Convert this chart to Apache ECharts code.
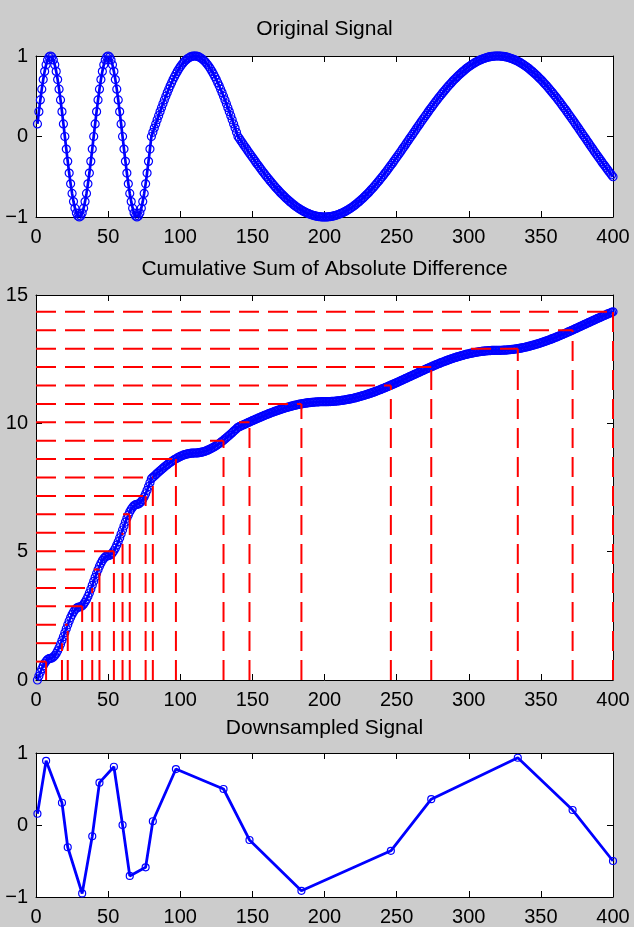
<!DOCTYPE html>
<html><head><meta charset="utf-8">
<script src="https://cdn.jsdelivr.net/npm/echarts@6/dist/echarts.min.js"></script>
<style>html,body{margin:0;padding:0;background:#cccccc;}#c{width:634px;height:927px;}</style>
</head><body><div id="c"></div><script>
// ---- data ----
const titles = ['Original Signal', 'Cumulative Sum of Absolute Difference', 'Downsampled Signal'];
const xTickValues = [0, 50, 100, 150, 200, 250, 300, 350, 400];
const ySignalTicks = [-1, 0, 1];
const yCumTicks = [0, 5, 10, 15];
const nLevels = 20;

// original signal, samples at x = 1 .. 400
const signal = [
 .156,.309,.454,.588,.707,.809,.891,.951,.988,1,
 .988,.951,.891,.809,.707,.588,.454,.309,.156,0,
 -.156,-.309,-.454,-.588,-.707,-.809,-.891,-.951,-.988,-1,
 -.988,-.951,-.891,-.809,-.707,-.588,-.454,-.309,-.156,0,
 .156,.309,.454,.588,.707,.809,.891,.951,.988,1,
 .988,.951,.891,.809,.707,.588,.454,.309,.156,0,
 -.156,-.309,-.454,-.588,-.707,-.809,-.891,-.951,-.988,-1,
 -.988,-.951,-.891,-.809,-.707,-.588,-.454,-.309,-.156,0,
 .052,.105,.156,.208,.259,.309,.358,.407,.454,.5,
 .545,.588,.629,.669,.707,.743,.777,.809,.839,.866,
 .891,.914,.934,.951,.966,.978,.988,.995,.999,1,
 .999,.995,.988,.978,.966,.951,.934,.914,.891,.866,
 .839,.809,.777,.743,.707,.669,.629,.588,.545,.5,
 .454,.407,.358,.309,.259,.208,.156,.105,.052,0,
 -.026,-.052,-.078,-.105,-.131,-.156,-.182,-.208,-.233,-.259,
 -.284,-.309,-.334,-.358,-.383,-.407,-.431,-.454,-.477,-.5,
 -.522,-.545,-.566,-.588,-.609,-.629,-.649,-.669,-.688,-.707,
 -.725,-.743,-.76,-.777,-.793,-.809,-.824,-.839,-.853,-.866,
 -.879,-.891,-.903,-.914,-.924,-.934,-.943,-.951,-.959,-.966,
 -.972,-.978,-.983,-.988,-.991,-.995,-.997,-.999,-1,-1,
 -1,-.999,-.997,-.995,-.991,-.988,-.983,-.978,-.972,-.966,
 -.959,-.951,-.943,-.934,-.924,-.914,-.903,-.891,-.879,-.866,
 -.853,-.839,-.824,-.809,-.793,-.777,-.76,-.743,-.725,-.707,
 -.688,-.669,-.649,-.629,-.609,-.588,-.566,-.545,-.522,-.5,
 -.477,-.454,-.431,-.407,-.383,-.358,-.334,-.309,-.284,-.259,
 -.233,-.208,-.182,-.156,-.131,-.105,-.078,-.052,-.026,0,
 .026,.052,.078,.105,.131,.156,.182,.208,.233,.259,
 .284,.309,.334,.358,.383,.407,.431,.454,.477,.5,
 .522,.545,.566,.588,.609,.629,.649,.669,.688,.707,
 .725,.743,.76,.777,.793,.809,.824,.839,.853,.866,
 .879,.891,.903,.914,.924,.934,.943,.951,.959,.966,
 .972,.978,.983,.988,.991,.995,.997,.999,1,1,
 1,.999,.997,.995,.991,.988,.983,.978,.972,.966,
 .959,.951,.943,.934,.924,.914,.903,.891,.879,.866,
 .853,.839,.824,.809,.793,.777,.76,.743,.725,.707,
 .688,.669,.649,.629,.609,.588,.566,.545,.522,.5,
 .477,.454,.431,.407,.383,.358,.334,.309,.284,.259,
 .233,.208,.182,.156,.131,.105,.078,.052,.026,0,
 -.026,-.052,-.078,-.105,-.131,-.156,-.182,-.208,-.233,-.259,
 -.284,-.309,-.334,-.358,-.383,-.407,-.431,-.454,-.477,-.5
];

// ---- derived tables (cumulative sum of |diff|, equal-level crossings) ----
const xs = signal.map((_, i) => i + 1);
const cum = [];
let acc = 0;
signal.forEach((v, i) => { if (i > 0) acc += Math.abs(v - signal[i - 1]); cum.push(acc); });
const total = cum[cum.length - 1];
const levels = [], crossIdx = [];
for (let j = 1; j <= nLevels; j++) {
  const lv = total * j / nLevels;
  let idx = cum.findIndex(c => c >= lv - 1e-9);
  if (idx < 0) idx = cum.length - 1;
  levels.push(lv); crossIdx.push(idx);
}
const downIdx = [0].concat(crossIdx);
const downX = downIdx.map(i => xs[i]);
const downY = downIdx.map(i => signal[i]);

// ---- styling ----
const FONT = 'Liberation Sans, Arial, Helvetica, sans-serif';
const BLUE = '#0000ff', RED = '#ff0000';
const grids = [
  {left: 36, top: 56, width: 577, height: 161},
  {left: 36, top: 295, width: 577, height: 385},
  {left: 36, top: 753, width: 577, height: 146}
];
const titleY = [29.5, 269.5, 728.5];
const fmt = v => (v < 0 ? '\u2212' + (-v) : String(v));

const xAxes = [], yAxes = [];
const yRanges = [[ySignalTicks, 1], [yCumTicks, 5], [ySignalTicks, 1]];
grids.forEach((g, gi) => {
  const axBase = {
    gridIndex: gi, type: 'value', splitLine: {show: false},
    axisLine: {show: true, onZero: false, lineStyle: {color: '#000', width: 1}},
    axisTick: {show: true, inside: true, length: 6, lineStyle: {color: '#000', width: 1}}
  };
  xAxes.push(Object.assign({}, axBase, {
    position: 'bottom', min: xTickValues[0], max: xTickValues[xTickValues.length - 1], interval: 50,
    axisLabel: {show: true, color: '#000', fontSize: 20, fontFamily: FONT, margin: 10, formatter: fmt}
  }));
  xAxes.push(Object.assign({}, axBase, {
    position: 'top', min: xTickValues[0], max: xTickValues[xTickValues.length - 1], interval: 50,
    axisLabel: {show: false}
  }));
  const yt = yRanges[gi][0];
  yAxes.push(Object.assign({}, axBase, {
    position: 'left', min: yt[0], max: yt[yt.length - 1], interval: yRanges[gi][1],
    axisLabel: {show: true, color: '#000', fontSize: 20, fontFamily: FONT, margin: 8, formatter: fmt}
  }));
  yAxes.push(Object.assign({}, axBase, {
    position: 'right', min: yt[0], max: yt[yt.length - 1], interval: yRanges[gi][1],
    axisLabel: {show: false}
  }));
});

const markerLine = (data, ax, size, lw) => ({
  type: 'line', xAxisIndex: ax, yAxisIndex: ax, data: data,
  symbol: 'circle', symbolSize: size, showAllSymbol: true, clip: false,
  itemStyle: {color: 'rgba(0,0,0,0)', borderColor: BLUE, borderWidth: 1.2},
  lineStyle: {color: BLUE, width: lw}, z: 2, silent: true, animation: false,
  emphasis: {disabled: true}
});

const series = [
  markerLine(xs.map((x, i) => [x, signal[i]]), 0, 8, 2.7),
  markerLine(xs.map((x, i) => [x, cum[i]]), 2, 8, 2.7),
  markerLine(downX.map((x, i) => [x, downY[i]]), 4, 7, 2.8)
];
levels.forEach((lv, j) => {
  const cx = xs[crossIdx[j]];
  const dashed = {color: RED, width: 2, type: [20, 9]};
  series.push({type: 'line', xAxisIndex: 2, yAxisIndex: 2, data: [[0, lv], [cx, lv]],
    symbol: 'none', lineStyle: dashed, z: 5, silent: true, animation: false, clip: false});
  series.push({type: 'line', xAxisIndex: 2, yAxisIndex: 2, data: [[cx, 0], [cx, lv]],
    symbol: 'none', lineStyle: dashed, z: 5, silent: true, animation: false, clip: false});
});

const graphic = titles.map((t, i) => ({
  type: 'text', x: 324.5, y: titleY[i], silent: true,
  style: {text: t, fill: '#000', font: '21px ' + FONT, fontSize: 21, fontFamily: FONT,
    textAlign: 'center', align: 'center', textVerticalAlign: 'middle', verticalAlign: 'middle'}
}));

const chart = echarts.init(document.getElementById('c'), null, {renderer: 'canvas', width: 634, height: 927});
chart.setOption({
  animation: false,
  backgroundColor: '#cccccc',
  grid: grids.map(g => Object.assign({show: true, backgroundColor: '#ffffff', borderWidth: 0, containLabel: false}, g)),
  xAxis: xAxes, yAxis: yAxes,
  graphic: graphic,
  series: series
});
</script></body></html>
